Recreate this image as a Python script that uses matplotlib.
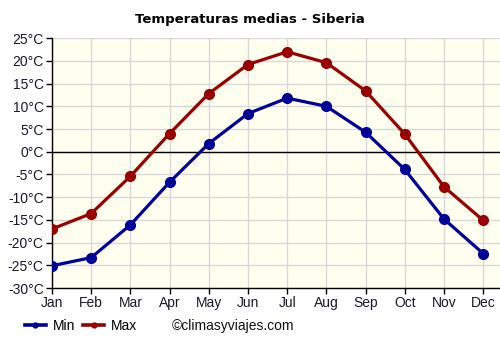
import matplotlib
matplotlib.use('Agg')
import matplotlib.pyplot as plt
from matplotlib.lines import Line2D

months = ['Jan', 'Feb', 'Mar', 'Apr', 'May', 'Jun', 'Jul', 'Aug', 'Sep', 'Oct', 'Nov', 'Dec']
t_min = [-25.1, -23.3, -16.1, -6.7, 1.8, 8.4, 11.8, 10.0, 4.3, -3.9, -14.8, -22.4]
t_max = [-17.0, -13.6, -5.4, 4.0, 12.8, 19.2, 22.0, 19.6, 13.4, 3.9, -7.7, -15.1]
y_ticks = list(range(-30, 30, 5))

fig = plt.figure(figsize=(5, 3.5), dpi=100)
ax = fig.add_axes([0.104, 0.177, 0.896, 0.714])
ax.set_facecolor('#fffff0')

x = list(range(len(months)))
ax.plot(x, t_min, color='#000099', lw=2.3, marker='o', ms=7, zorder=4)
ax.plot(x, t_max, color='#990000', lw=2.3, marker='o', ms=7, zorder=4)
ax.axhline(0, color='black', lw=1, zorder=3)

ax.set_xlim(0, 11.43)
ax.set_ylim(-30, 25)
ax.set_xticks(x)
ax.set_xticklabels(months)
ax.set_yticks(y_ticks)
ax.set_yticklabels([f'{v}°C' for v in y_ticks])
ax.grid(True, color='#d8d8d8', lw=1, zorder=0)
ax.set_axisbelow(True)

for s in ['top', 'right']:
    ax.spines[s].set_visible(False)
for s in ['left', 'bottom']:
    ax.spines[s].set_color('black')
    ax.spines[s].set_linewidth(1)
ax.tick_params(length=4, width=1, color='black', labelsize=10, labelcolor='#1a1a2a', pad=2)
for lab in ax.get_xticklabels() + ax.get_yticklabels():
    lab.set_family('Liberation Sans')

fig.text(0.5, 0.945, 'Temperaturas medias - Siberia', ha='center', va='center',
         fontsize=9.5, fontweight='bold', family='DejaVu Sans')

handles = [Line2D([], [], color='#000099', lw=2.6, marker='o', ms=3.5),
           Line2D([], [], color='#990000', lw=2.6, marker='o', ms=3.5)]
fig.legend(handles, ['Min', 'Max'], loc='center left', bbox_to_anchor=(0.05, 0.068),
           ncol=2, frameon=False, handlelength=1.5, handletextpad=0.5, columnspacing=0.6,
           borderpad=0, borderaxespad=0,
           prop={'family': 'Liberation Sans', 'size': 10})
fig.text(0.344, 0.068, '©climasyviajes.com', ha='left', va='center', fontsize=10,
         family='Liberation Sans', color='#111')

fig.savefig('out.png', dpi=100)
